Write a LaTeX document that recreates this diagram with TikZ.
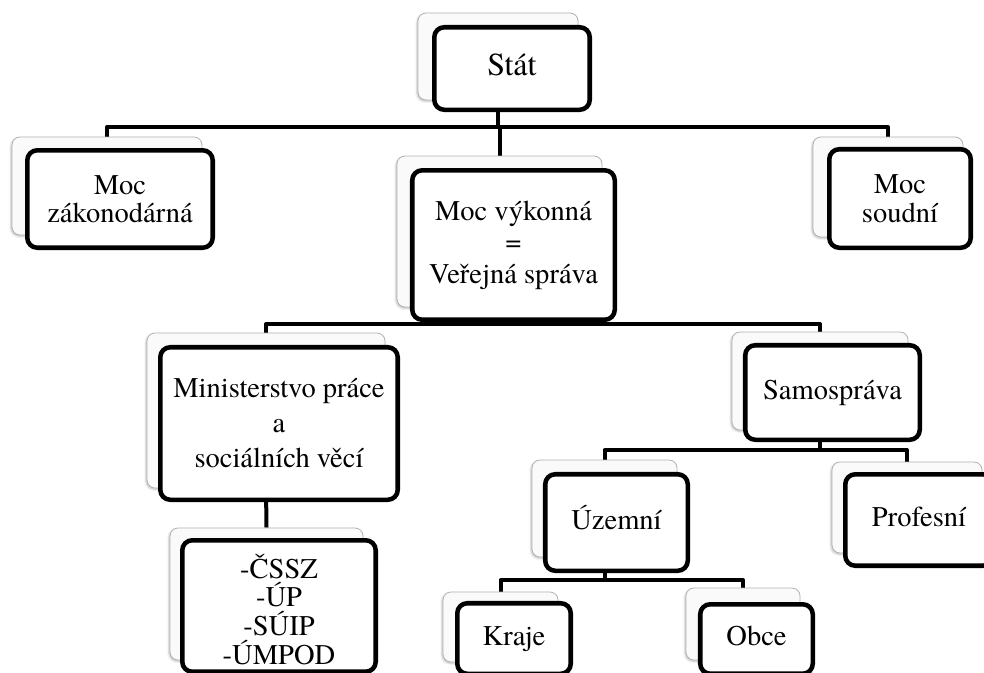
\documentclass[tikz,border=0pt]{standalone}
\usepackage{fontspec}
\setmainfont{texgyretermes}[Extension=.otf, UprightFont=*-regular, BoldFont=*-bold, ItalicFont=*-italic, BoldItalicFont=*-bolditalic]
\usetikzlibrary{backgrounds}
\usetikzlibrary{shadows.blur}
\tikzset{
  cardback/.style={draw=black!30, line width=0.6pt, fill=black!2, rounded corners=6pt, inner sep=0pt,
    blur shadow={shadow xshift=-0.8pt, shadow yshift=-1pt, shadow blur radius=1.5pt, shadow opacity=25}},
  card/.style={draw=black, line width=3.4pt, fill=white, rounded corners=7.5pt, inner sep=0pt,
    align=center, font=\fontsize{21.4}{#1}\selectfont},
  card/.default=21.5,
  oneline/.style={text height=14.7pt, text depth=4.7pt},
  link/.style={draw=black, line width=3pt, line join=round}
}
\begin{document}
\begin{tikzpicture}[x=0.75pt,y=0.75pt,yscale=-1,xscale=1]
\clip (0,0) rectangle (984,672);

%Shape: Stat
\node [cardback, minimum width=120pt, minimum height=65.25pt] (statB) at (498,56.5) {};
\node [card, oneline, minimum width=116.6pt, minimum height=61.9pt, font=\fontsize{24}{28}\selectfont] (stat) at (512,68.5) {Stát};
%Shape: Moc zakonodarna
\node [cardback, minimum width=142.5pt, minimum height=73.5pt] (zakB) at (107,186) {};
\node [card=21, minimum width=139.1pt, minimum height=73.1pt] (zak) at (120,199) {Moc\\zákonodárná};
%Shape: Moc vykonna
\node [cardback, minimum width=153.75pt, minimum height=113.25pt] (vykB) at (499.5,231.5) {};
\node [card=23.6, minimum width=151.9pt, minimum height=112.1pt] (vyk) at (513.5,245) {Moc výkonná\\=\\Veřejná správa};
%Shape: Moc soudni
\node [cardback, minimum width=112.5pt, minimum height=75pt] (soudB) at (888,187) {};
\node [card=21.75, minimum width=106.1pt, minimum height=73.9pt] (soud) at (900,198.5) {Moc\\soudní};
%Shape: Ministerstvo
\node [cardback, minimum width=178.5pt, minimum height=116.25pt] (minB) at (266,410.5) {};
\node [card=26.25, minimum width=178.1pt, minimum height=114.4pt] (min) at (279,423.5) {Ministerstvo práce\\a\\sociálních věcí};
%Shape: Urady
\node [cardback, minimum width=144.75pt, minimum height=99pt] (csszB) at (266.5,594) {};
\node [card=21.5, minimum width=145.1pt, minimum height=98.6pt] (cssz) at (279,606) {\rule{0pt}{23pt}-ČSSZ\\-ÚP\\-SÚIP\\-ÚMPOD};
%Shape: Samosprava
\node [cardback, minimum width=132pt, minimum height=73.5pt] (samB) at (820,381) {};
\node [card, oneline, minimum width=130.9pt, minimum height=70.9pt] (sam) at (832.5,392.5) {Samospráva};
%Shape: Profesni
\node [cardback, minimum width=112.5pt, minimum height=68.25pt] (profB) at (907,507.5) {};
\node [card, oneline, minimum width=110.6pt, minimum height=68.6pt] (prof) at (919,520) {Profesní};
%Shape: Uzemni
\node [cardback, minimum width=108.75pt, minimum height=72.75pt] (uzeB) at (604.5,508.5) {};
\node [card, oneline, minimum width=106.9pt, minimum height=72.4pt] (uze) at (616.5,522.5) {Územní};
%Shape: Kraje
\node [cardback, minimum width=86.25pt, minimum height=52.5pt] (krajB) at (500.5,627) {};
\node [card, oneline, minimum width=85.1pt, minimum height=52.9pt] (kraj) at (514,638.5) {Kraje};
%Shape: Obce
\node [cardback, minimum width=85.5pt, minimum height=54pt] (obceB) at (743,624) {};
\node [card, oneline, minimum width=84.4pt, minimum height=52.1pt] (obce) at (756.5,639) {Obce};

% bars
\coordinate (barA) at (0,127);
\coordinate (barB) at (0,324);
\coordinate (barC) at (0,450);
\coordinate (barD) at (0,580);

\begin{pgfonlayer}{background}
%Straight Lines
\draw [link] (statB.south) -- (statB.south |- barA) -| (zakB.north);
\draw [link] (statB.south) -- (statB.south |- barA) -| (vykB.north);
\draw [link] (statB.south) -- (statB.south |- barA) -| (soudB.north);
%Straight Lines
\draw [link] (vykB.south) -- (vykB.south |- barB) -| (minB.north);
\draw [link] (vykB.south) -- (vykB.south |- barB) -| (samB.north);
%Straight Lines
\draw [link] (minB.south) -- (csszB.north);
%Straight Lines
\draw [link] (samB.south) -- (samB.south |- barC) -| (uzeB.north);
\draw [link] (samB.south) -- (samB.south |- barC) -| (profB.north);
%Straight Lines
\draw [link] (uzeB.south) -- (uzeB.south |- barD) -| (krajB.north);
\draw [link] (uzeB.south) -- (uzeB.south |- barD) -| (obceB.north);
\end{pgfonlayer}

\end{tikzpicture}
\end{document}
